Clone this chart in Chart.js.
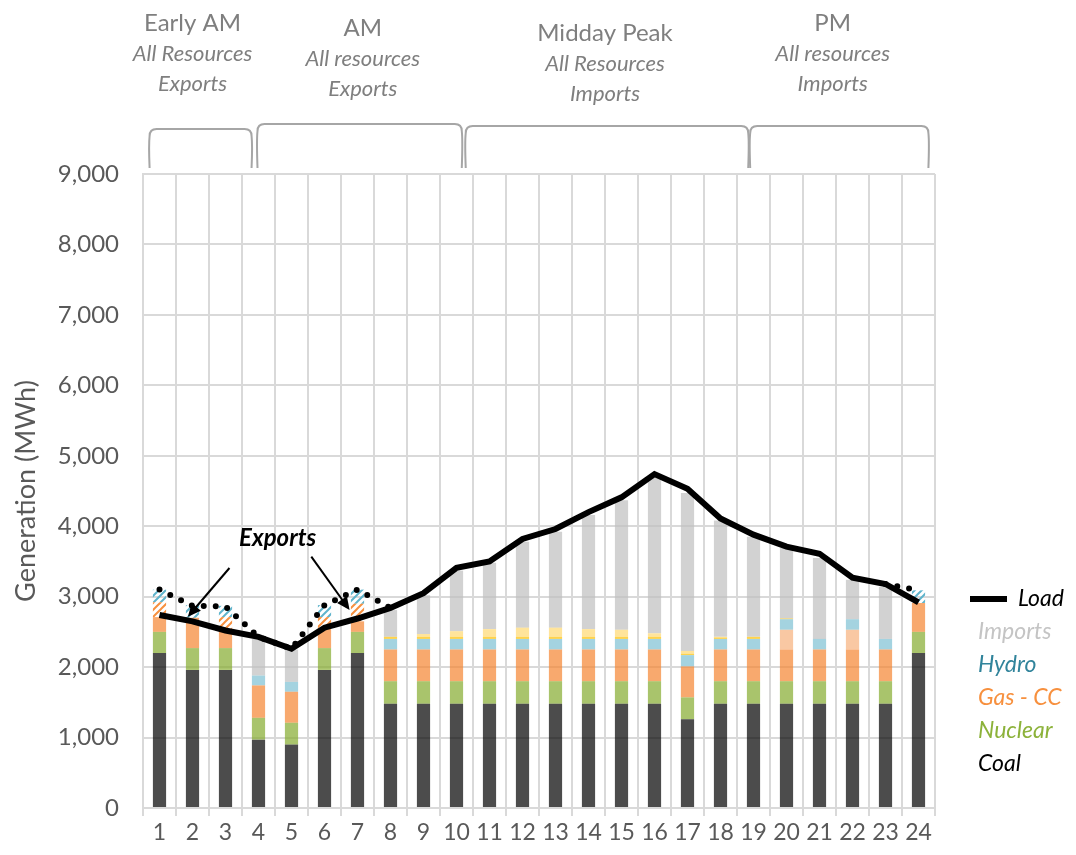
<!DOCTYPE html>
<html>
<head>
<meta charset="utf-8">
<title>Hourly generation by resource</title>
<script src="https://cdn.jsdelivr.net/npm/chart.js@4.4.1/dist/chart.umd.min.js"></script>
<style>
  html, body { margin: 0; padding: 0; background: #fff; }
  #wrap { width: 1076px; height: 855px; }
</style>
</head>
<body>
<div id="wrap"><canvas id="gen-chart" width="1076" height="855"></canvas></div>
<script>
// Hours of the day
const hours = ['1', '2', '3', '4', '5', '6', '7', '8', '9', '10', '11', '12',
               '13', '14', '15', '16', '17', '18', '19', '20', '21', '22', '23', '24'];

// Generation per resource (MWh), stacked bottom to top
const coal    = [2200, 1960, 1960, 970, 900, 1960, 2200, 1480, 1480, 1480, 1480, 1480,
                 1480, 1480, 1480, 1480, 1260, 1480, 1480, 1480, 1480, 1480, 1480, 2200];
const nuclear = [300, 310, 310, 310, 310, 310, 300, 320, 320, 320, 320, 320,
                 320, 320, 320, 320, 310, 320, 320, 320, 320, 320, 320, 300];
const gasCC   = [210, 430, 230, 460, 440, 260, 150, 450, 450, 450, 450, 450,
                 450, 450, 450, 450, 440, 450, 450, 450, 450, 450, 450, 410];
const gasCT   = [0, 0, 0, 0, 0, 0, 0, 0, 0, 0, 0, 0,
                 0, 0, 0, 0, 0, 0, 0, 280, 0, 280, 0, 0];
const hydro   = [0, 0, 0, 140, 140, 0, 0, 150, 150, 150, 150, 150,
                 150, 150, 150, 150, 160, 150, 150, 150, 150, 150, 150, 0];
const solar   = [0, 0, 0, 0, 0, 0, 0, 30, 30, 30, 30, 30,
                 30, 30, 30, 30, 20, 20, 30, 10, 0, 0, 0, 0];
const wind    = [0, 0, 0, 0, 0, 0, 0, 0, 40, 80, 110, 130,
                 130, 110, 100, 50, 40, 10, 0, 0, 0, 0, 0, 0];
const imports = [0, 0, 0, 520, 460, 0, 0, 380, 550, 860, 940, 1220,
                 1360, 1620, 1840, 2220, 2240, 1650, 1420, 1000, 1150, 560, 740, 0];

// Generation above load that leaves the area
const gasCCExports = [210, 0, 210, 0, 0, 180, 250, 0, 0, 0, 0, 0,
                      0, 0, 0, 0, 0, 0, 0, 0, 0, 0, 0, 0];
const hydroExports = [180, 180, 160, 0, 0, 170, 200, 0, 0, 0, 0, 0,
                      0, 0, 0, 0, 0, 0, 0, 0, 0, 0, 0, 180];

// Hourly load and total supply (MWh)
const load   = [2740, 2650, 2520, 2430, 2260, 2560, 2690, 2840, 3050, 3410, 3500, 3820,
                3960, 4200, 4410, 4740, 4530, 4110, 3880, 3710, 3610, 3270, 3180, 2920];
const supply = [3100, 2870, 2860, 2430, 2260, 2880, 3100, 2840, null, null, null, null,
                null, null, null, null, null, null, null, null, null, null, 3180, 3090];

const yTicks = [0, 1000, 2000, 3000, 4000, 5000, 6000, 7000, 8000, 9000];

// Time-of-day groups shown above the plot (spans in hours)
const periods = [
  { name: 'Early AM',    resources: 'All Resources', flow: 'Exports', from: 0.7,   to: 3.79,  mid: 2.0 },
  { name: 'AM',          resources: 'All resources', flow: 'Exports', from: 3.97,  to: 10.16, mid: 7.16 },
  { name: 'Midday Peak', resources: 'All Resources', flow: 'Imports', from: 10.28, to: 18.84, mid: 14.5 },
  { name: 'PM',          resources: 'All resources', flow: 'Imports', from: 18.9,  to: 24.3,  mid: 21.4 }
];
const periodTextTop = [23, 28, 33, 23];
const periodBracketTop = [129, 124, 126, 126];

const legendRows = [
  { text: 'Load',     color: '#000000', line: true },
  { text: 'Imports',  color: '#C4C4C4' },
  { text: 'Hydro',    color: '#31849B' },
  { text: 'Gas - CC', color: '#F7903E' },
  { text: 'Nuclear',  color: '#8CB23A' },
  { text: 'Coal',     color: '#000000' }
];

const FONT = 'Lato, "Open Sans", sans-serif';
Chart.defaults.font.family = FONT;

const canvas = document.getElementById('gen-chart');
const ctx = canvas.getContext('2d');

// Diagonal stripe fill for the exported part of a bar
function hatch(color) {
  const tile = document.createElement('canvas');
  tile.width = 7;
  tile.height = 7;
  const g = tile.getContext('2d');
  g.strokeStyle = color;
  g.lineWidth = 2;
  g.beginPath();
  g.moveTo(0, 7); g.lineTo(7, 0);
  g.moveTo(-1, 1); g.lineTo(1, -1);
  g.moveTo(6, 8); g.lineTo(8, 6);
  g.stroke();
  return ctx.createPattern(tile, 'repeat');
}

function hourX(chart, h) {
  const xs = chart.scales.x;
  const x1 = xs.getPixelForValue(0);
  const x24 = xs.getPixelForValue(23);
  return x1 + (h - 1) * (x24 - x1) / 23;
}

function arrow(c, x0, y0, x1, y1) {
  const ang = Math.atan2(y1 - y0, x1 - x0);
  const len = 13, half = 6;
  c.strokeStyle = '#000';
  c.fillStyle = '#000';
  c.lineWidth = 2;
  c.beginPath();
  c.moveTo(x0, y0);
  c.lineTo(x1 - Math.cos(ang) * len * 0.8, y1 - Math.sin(ang) * len * 0.8);
  c.stroke();
  c.beginPath();
  c.moveTo(x1, y1);
  c.lineTo(x1 - Math.cos(ang) * len - Math.sin(ang) * half, y1 - Math.sin(ang) * len + Math.cos(ang) * half);
  c.lineTo(x1 - Math.cos(ang) * len + Math.sin(ang) * half, y1 - Math.sin(ang) * len - Math.cos(ang) * half);
  c.closePath();
  c.fill();
}

// Period brackets, the exports call-out and the legend
const overlay = {
  id: 'overlay',
  afterDraw(chart) {
    const c = chart.ctx;
    const ys = chart.scales.y;
    const area = chart.chartArea;
    c.save();

    // brackets and their captions
    periods.forEach((p, i) => {
      const x0 = hourX(chart, p.from);
      const x1 = hourX(chart, p.to);
      const top = periodBracketTop[i];
      const bottom = area.top - 6;
      const r = 7;
      c.strokeStyle = '#A6A6A6';
      c.lineWidth = 2;
      c.beginPath();
      c.moveTo(x0, bottom);
      c.quadraticCurveTo(x0 - 1, top + 16, x0, top + r);
      c.quadraticCurveTo(x0, top, x0 + r, top);
      c.lineTo(x1 - r, top);
      c.quadraticCurveTo(x1, top, x1, top + r);
      c.quadraticCurveTo(x1 + 1, top + 16, x1, bottom);
      c.stroke();

      const cx = hourX(chart, p.mid);
      const ty = periodTextTop[i];
      c.fillStyle = '#7F7F7F';
      c.textAlign = 'center';
      c.textBaseline = 'middle';
      c.font = '24px ' + FONT;
      c.fillText(p.name, cx, ty);
      c.font = 'italic 22px ' + FONT;
      c.fillText(p.resources, cx, ty + 31);
      c.fillText(p.flow, cx, ty + 61);
    });

    // exports call-out
    c.fillStyle = '#000';
    c.font = 'italic bold 24px ' + FONT;
    c.textAlign = 'center';
    c.textBaseline = 'middle';
    c.fillText('Exports', hourX(chart, 4.58), ys.getPixelForValue(3833));
    arrow(c, hourX(chart, 3.12), ys.getPixelForValue(3407), hourX(chart, 1.86), ys.getPixelForValue(2716));
    arrow(c, hourX(chart, 5.6), ys.getPixelForValue(3568), hourX(chart, 6.76), ys.getPixelForValue(2811));

    // legend
    const lx = area.right + 35;
    let ly = 599;
    c.textAlign = 'left';
    c.font = 'italic 23px ' + FONT;
    legendRows.forEach(row => {
      c.fillStyle = row.color;
      if (row.line) {
        c.strokeStyle = row.color;
        c.lineWidth = 6;
        c.beginPath();
        c.moveTo(lx, ly);
        c.lineTo(lx + 37, ly);
        c.stroke();
        c.fillText(row.text, lx + 48, ly);
      } else {
        c.fillText(row.text, lx + 8, ly);
      }
      ly += 33;
    });
    c.restore();
  }
};

function barSet(label, data, color) {
  return {
    type: 'bar',
    label: label,
    data: data,
    backgroundColor: color,
    borderWidth: 0,
    order: 2,
    categoryPercentage: 1.0,
    barPercentage: 0.4
  };
}

const gridColor = '#D9D9D9';

new Chart(ctx, {
  type: 'bar',
  data: {
    labels: hours,
    datasets: [
      {
        type: 'line',
        label: 'Load',
        data: load,
        borderColor: '#000',
        borderWidth: 6,
        pointRadius: 0,
        tension: 0,
        stack: 'load',
        order: 0
      },
      {
        type: 'line',
        label: 'Supply',
        data: supply,
        borderColor: '#000',
        borderWidth: 6,
        borderDash: [0, 12],
        borderCapStyle: 'round',
        pointRadius: 0,
        tension: 0,
        spanGaps: false,
        stack: 'supply',
        order: 1
      },
      barSet('Coal', coal, 'rgba(0, 0, 0, 0.7)'),
      barSet('Nuclear', nuclear, 'rgba(132, 171, 45, 0.7)'),
      barSet('Gas - CC', gasCC, 'rgba(245, 133, 48, 0.7)'),
      barSet('Gas - CT', gasCT, 'rgba(247, 176, 124, 0.7)'),
      barSet('Hydro', hydro, 'rgba(126, 193, 211, 0.7)'),
      barSet('Solar', solar, 'rgba(255, 192, 0, 0.7)'),
      barSet('Wind', wind, 'rgba(255, 216, 112, 0.7)'),
      barSet('Imports', imports, 'rgba(191, 191, 191, 0.7)'),
      barSet('Gas - CC exports', gasCCExports, hatch('#F7903E')),
      barSet('Hydro exports', hydroExports, hatch('#5FB4CC'))
    ]
  },
  options: {
    responsive: false,
    animation: false,
    devicePixelRatio: 1,
    layout: { padding: { top: 174, right: 141, left: 0, bottom: 0 } },
    plugins: {
      legend: { display: false },
      tooltip: { enabled: false }
    },
    scales: {
      x: {
        stacked: true,
        offset: true,
        grid: { offset: true, color: gridColor, lineWidth: 2, tickLength: 8, tickColor: gridColor },
        border: { color: gridColor, width: 2 },
        ticks: { color: '#595959', font: { size: 23 }, padding: 3, maxRotation: 0, autoSkip: false },
        afterFit: s => { s.height = 47; }
      },
      y: {
        stacked: true,
        min: 0,
        max: 9000,
        afterBuildTicks: s => { s.ticks = yTicks.map(v => ({ value: v })); },
        grid: { color: gridColor, lineWidth: 2, drawTicks: false },
        border: { color: gridColor, width: 2 },
        ticks: {
          color: '#595959',
          font: { size: 24 },
          padding: 24,
          callback: v => v.toLocaleString('en-US')
        },
        title: {
          display: true,
          text: 'Generation (MWh)',
          color: '#595959',
          font: { size: 27 },
          padding: { top: 10, bottom: 0 }
        },
        afterFit: s => { s.width = 143; }
      }
    }
  },
  plugins: [overlay]
});
</script>
</body>
</html>
